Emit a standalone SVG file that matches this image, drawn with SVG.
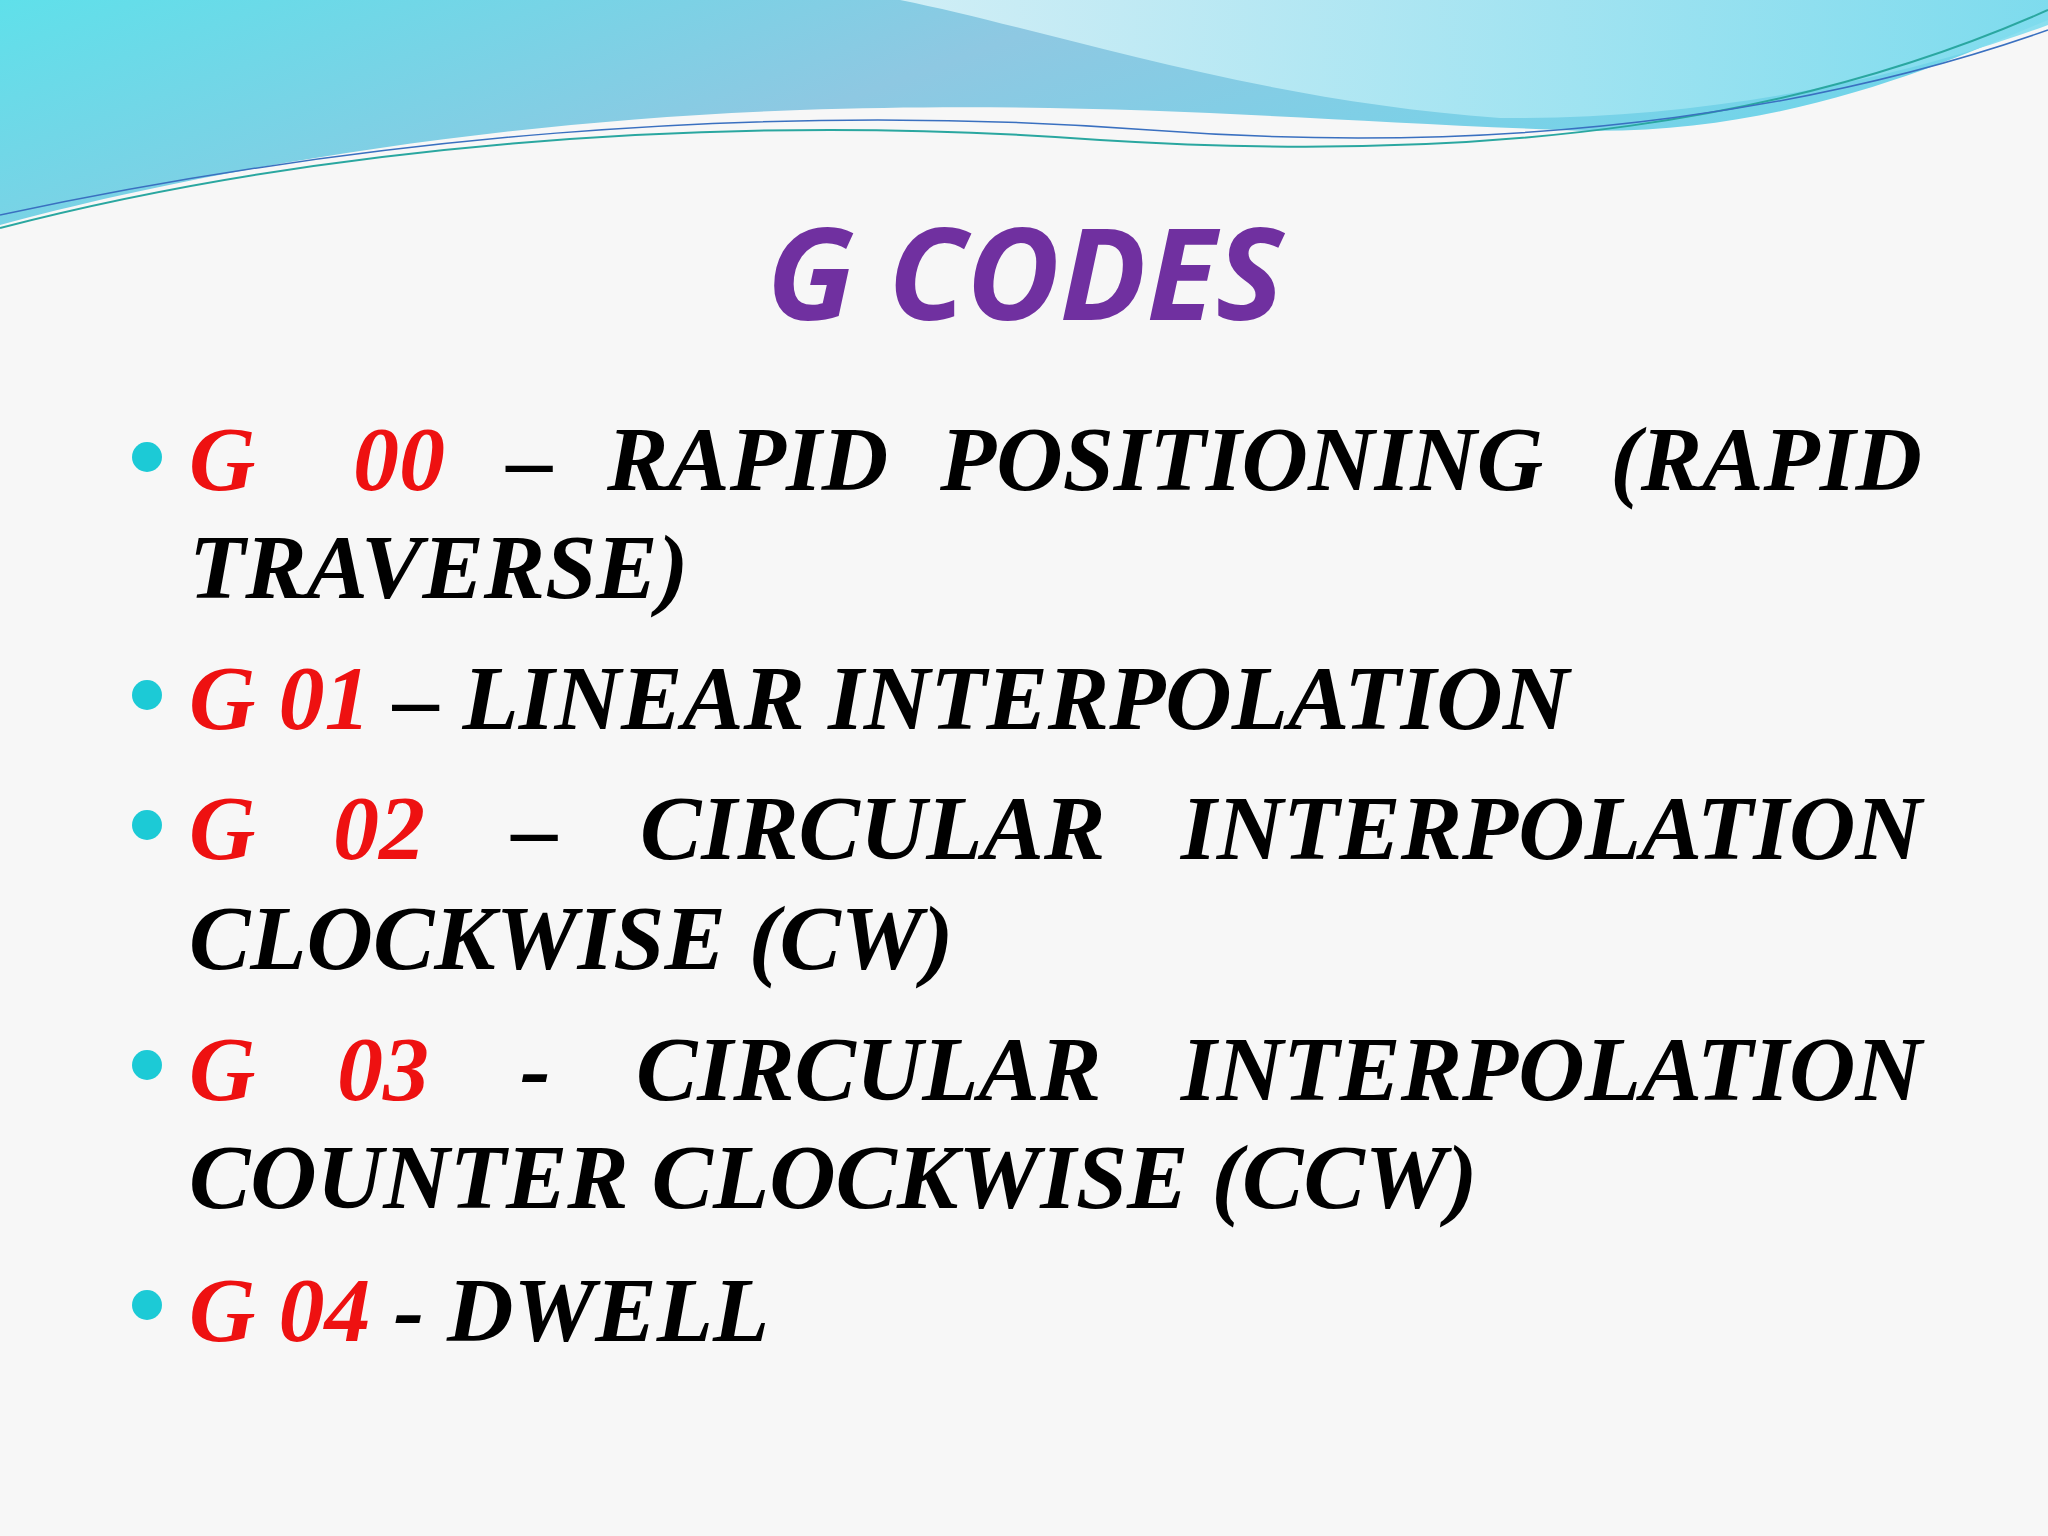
<svg xmlns="http://www.w3.org/2000/svg" width="2048" height="1536" viewBox="0 0 2048 1536">
<defs>
<linearGradient id="wave" x1="0" y1="0" x2="1" y2="0.3">
<stop offset="0" stop-color="#5fe0ea"/>
<stop offset="0.5" stop-color="#8ec8e2"/>
<stop offset="1" stop-color="#6fd6ea"/>
</linearGradient>
<linearGradient id="wave2" x1="0" y1="0" x2="1" y2="0">
<stop offset="0" stop-color="#d8f2f8"/>
<stop offset="1" stop-color="#7fdcee"/>
</linearGradient>
<style>
.t{font-family:"Liberation Serif",serif;font-style:italic;font-weight:bold;font-size:92px}
.r{fill:#ee1111}.k{fill:#000}
.b{fill:#1ccad6}
</style>
</defs>
<rect width="2048" height="1536" fill="#f7f7f7"/>
<g id="background">
<path d="M0,0 H2048 V20 C1950,60 1780,140 1560,130 C1300,120 1100,100 800,110 C500,120 200,170 0,225 Z" fill="url(#wave)"/>
<path d="M900,0 H2048 V25 C1900,80 1700,120 1500,118 C1250,100 1050,30 900,0 Z" fill="url(#wave2)" opacity="0.9"/>
<path d="M0,228 C300,150 700,110 1100,140 C1500,165 1800,120 2048,10" fill="none" stroke="#2aa7a0" stroke-width="2"/>
<path d="M0,215 C350,140 750,100 1150,130 C1550,160 1850,100 2048,30" fill="none" stroke="#3a70c0" stroke-width="1.5"/>
</g>
<g id="title">
<text x="1025" y="320" text-anchor="middle" font-family="'Open Sans',sans-serif" font-weight="bold" font-style="italic" font-size="128" fill="#7030a0">G CODES</text>
</g>
<g id="bullets">
<circle class="b" cx="147" cy="457" r="15"/>
<circle class="b" cx="147" cy="695" r="15"/>
<circle class="b" cx="147" cy="825" r="15"/>
<circle class="b" cx="147" cy="1065" r="15"/>
<circle class="b" cx="147" cy="1305" r="15"/>
</g>
<g id="g00">
<text class="t r" x="189" y="490">G</text>
<text class="t r" x="353" y="490">00</text>
<text class="t k" x="507" y="490">–</text>
<text class="t k" x="607" y="490">RAPID</text>
<text class="t k" x="940" y="490">POSITIONING</text>
<text class="t k" x="1922" y="490" text-anchor="end">(RAPID</text>
<text class="t k" x="189" y="598">TRAVERSE)</text>
</g>
<g id="g01">
<text class="t" x="189" y="729"><tspan class="r">G 01</tspan><tspan class="k"> – LINEAR INTERPOLATION</tspan></text>
</g>
<g id="g02">
<text class="t r" x="189" y="859">G</text>
<text class="t r" x="333" y="859">02</text>
<text class="t k" x="512" y="859">–</text>
<text class="t k" x="640" y="859">CIRCULAR</text>
<text class="t k" x="1922" y="859" text-anchor="end">INTERPOLATION</text>
<text class="t k" x="189" y="969">CLOCKWISE (CW)</text>
</g>
<g id="g03">
<text class="t r" x="189" y="1100">G</text>
<text class="t r" x="337" y="1100">03</text>
<text class="t k" x="520" y="1100">-</text>
<text class="t k" x="636" y="1100">CIRCULAR</text>
<text class="t k" x="1922" y="1100" text-anchor="end">INTERPOLATION</text>
<text class="t k" x="189" y="1208">COUNTER CLOCKWISE (CCW)</text>
</g>
<g id="g04">
<text class="t" x="189" y="1341"><tspan class="r">G 04</tspan><tspan class="k"> - DWELL</tspan></text>
</g>
</svg>
